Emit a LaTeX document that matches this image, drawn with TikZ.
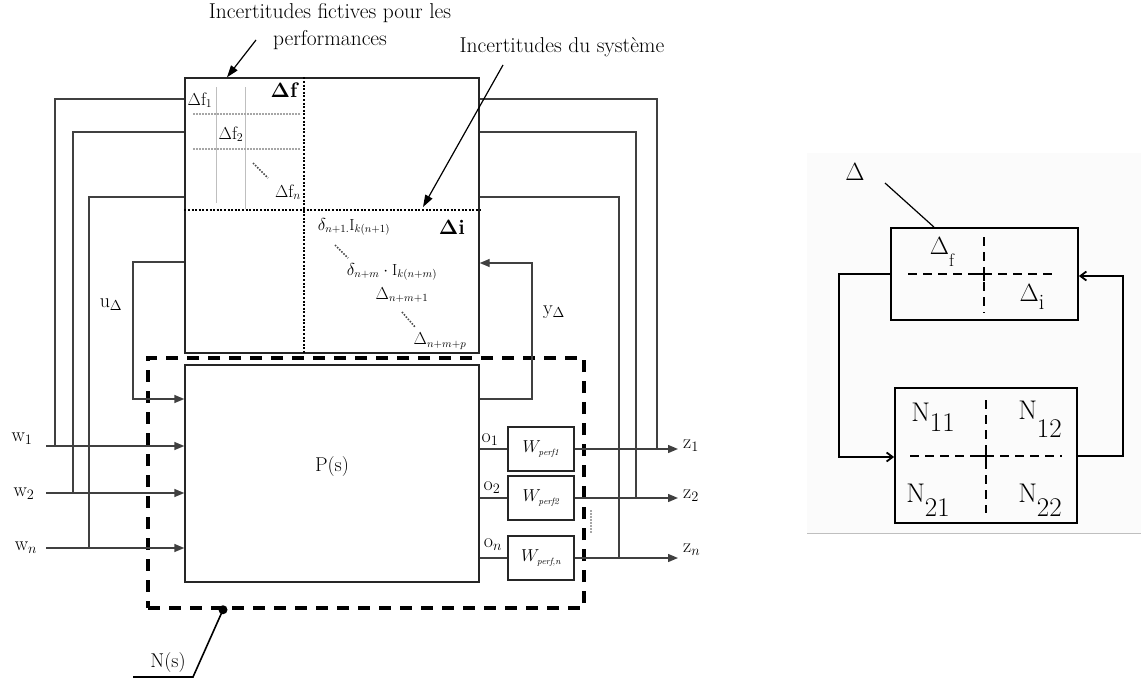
\documentclass[tikz,border=0pt]{standalone}
\usepackage{amsmath,amssymb}
\usepackage{fontspec}
\usetikzlibrary{arrows.meta,calc,positioning}
\newcommand{\lowsub}[3][10pt]{#2\lower#1\hbox{#3}}
\tikzset{
  >={Triangle[length=10pt,width=8pt]},
  blk/.style={draw=black!85,line width=1.4pt,inner sep=0pt},
  wire/.style={black!75,line width=1.4pt},
  sig/.style={wire,->},
  annot/.style={black,line width=1.2pt,-{Triangle[length=12pt,width=8pt]}},
  nbord/.style={draw,line width=3.5pt,dash pattern=on 12pt off 9pt},
  sepdot/.style={line width=2.2pt,dash pattern=on 2pt off 1.6pt},
  gridln/.style={black!25,line width=1pt},
  griddot/.style={black!35,line width=1.2pt,dash pattern=on 1.5pt off 1.5pt},
  cdots/.style={black!70,line width=1.6pt,dash pattern=on 1.5pt off 1.5pt},
  lbl/.style={font=\fontsize{20}{24}\selectfont},
  dlbl/.style={font=\fontsize{18}{21}\selectfont},
  ilbl/.style={font=\fontsize{16}{19}\selectfont},
  bigd/.style={font=\fontsize{21}{24}\selectfont\bfseries},
  note/.style={font=\fontsize{21.5}{27}\selectfont,align=center},
  wpbox/.style={blk,minimum width=66pt,minimum height=44pt,font=\fontsize{18}{20}\selectfont},
  rbox/.style={draw,line width=1.8pt,inner sep=0pt},
  rlbl/.style={font=\fontsize{27}{30}\selectfont},
  rloop/.style={line width=1.8pt,-{Straight Barb[length=6pt,width=9pt]}},
  rsep/.style={line width=1.4pt,dash pattern=on 9pt off 6pt},
}

\begin{document}
\begin{tikzpicture}[x=1pt,y=-1pt,every node/.style={inner sep=0pt}]
  \useasboundingbox (0,0) rectangle (1141,680);
  % left: uncertainty block, plant and N(s)
  \node[blk,minimum width=294pt,minimum height=275pt] (dlt) at (332,215.5) {};
  \node[blk,minimum width=294pt,minimum height=217pt] (plant) at (332,473.5) {};
  \node[lbl] (plab) at (332,467) {P(s)};
  \node[nbord,minimum width=436pt,minimum height=250pt] (nbox) at (366,483) {};
  \foreach \i/\yc/\sb in {1/449/perf1,2/498/perf2,n/558/{perf,n}}
    \node[wpbox] (wp\i) at (541,\yc) {$W_{\scriptscriptstyle \mathit{\sb}}$};

  % block structure of Delta
  \draw[sepdot] (dlt.north -| 304,0) -- (dlt.south -| 304,0);
  \draw[sepdot] (dlt.west |- 0,210) -- (dlt.east |- 0,210);
  \draw[gridln] (216,87) -- (216,203);
  \draw[gridln] (245,87) -- (245,209);
  \draw[griddot] (193,114) -- (300,114);
  \draw[griddot] (193,149) -- (300,149);
  \draw[cdots] (253,163) -- (268,178);
  \draw[cdots] (335,245) -- (348,258);
  \draw[cdots] (402,312) -- (415,327);
  \node[bigd] (dfl) at (284,90) {$\boldsymbol{\Delta}$f};
  \node[bigd] (dil) at (452,227) {$\boldsymbol{\Delta}$i};
  \node[dlbl] (df1) at (200,100) {$\Delta\mathrm{f}_1$};
  \node[dlbl] (df2) at (231,134) {$\Delta\mathrm{f}_2$};
  \node[dlbl] (dfn) at (288,192) {$\Delta\mathrm{f}_n$};
  \node[ilbl] (dn1) at (354,227) {$\delta_{n+1.}\mathrm{I}_{k(n+1)}$};
  \node[ilbl] (dnm) at (392,272) {$\delta_{n+m}\cdot\mathrm{I}_{k(n+m)}$};
  \node[ilbl] (dnm1) at (402,295) {$\Delta_{n+m+1}$};
  \node[ilbl] (dnmp) at (440,341) {$\Delta_{n+m+p}$};

  % inputs w and feedback from Delta
  \foreach \i/\yw/\xl/\yt in {1/446/55/99,2/493/73/132,n/548/89/197} {
    \coordinate (w\i) at (46,\yw);
    \draw[sig] (w\i) -- (plant.west |- w\i);
    \draw[wire] (dlt.west |- 0,\yt) -| (\xl,\yw);
  }
  \node[lbl] (w1l) at (22,439) {w$_1$};
  \node[lbl] (w2l) at (24,494) {w$_2$};
  \node[lbl] (wnl) at (26,548) {w$_n$};

  % outputs through the weights
  \foreach \i/\yc/\xr/\yt in {1/449/657/99,2/498/636/132,n/558/619/197} {
    \coordinate (z\i) at (678,\yc);
    \draw[wire] (plant.east |- wp\i) -- (wp\i.west);
    \draw[sig] (wp\i.east) -- (z\i);
    \draw[wire] (dlt.east |- 0,\yt) -| (\xr,\yc);
  }
  \node[lbl] (o1l) at (490,440) {o$_1$};
  \node[lbl] (o2l) at (492,488) {o$_2$};
  \node[lbl] (onl) at (493,545) {o$_n$};
  \node[lbl,anchor=west] (z1l) at (683,446) {z$_1$};
  \node[lbl,anchor=west] (z2l) at (683,496) {z$_2$};
  \node[lbl,anchor=west] (znl) at (683,550) {z$_n$};
  \draw[griddot] (591,510) -- (591,534);

  % u_Delta / y_Delta loop
  \draw[sig] (dlt.west |- 0,262) -| (133,399) -- (plant.west |- 0,399);
  \draw[sig] (plant.east |- 0,399) -| (532,263) -- (dlt.east |- 0,263);
  \node[lbl] (ul) at (111,305) {u$_\Delta$};
  \node[lbl] (yl) at (554,312) {y$_\Delta$};

  % annotations
  \node[note] (fict) at (330,27) {Incertitudes fictives pour les\\performances};
  \node[note] (sysu) at (562,47) {Incertitudes du système};
  \coordinate (fa) at (256,40);
  \coordinate (sa) at (503,65);
  \coordinate (di) at (423,207);
  \draw[annot] (fa) -- (dlt.north -| 227,0);
  \draw[annot] (sa) -- (di);

  % N(s) pointer
  \coordinate (ndot) at (nbox.south -| 223,0);
  \coordinate (nk) at (193,677);
  \coordinate (ne) at (133,677);
  \fill (ndot) circle (4.5pt);
  \draw[line width=1.6pt] (ndot) -- (nk) -- (ne);
  \node[lbl] (nlab) at (168,663) {N(s)};

  % right: Delta / N interconnection
  \fill[black!1.5] (807,153) rectangle (1141,533);
  \draw[black!25,line width=1pt] (807,533) -- (1141,533);
  \node[rbox,minimum width=187pt,minimum height=92pt] (dr) at (984.5,274) {};
  \node[rbox,minimum width=182pt,minimum height=135pt] (nr) at (986,455.5) {};
  \draw[rsep] (908,274) -- (1055,274);
  \draw[rsep] (984,237) -- (984,313);
  \draw[line width=1.4pt] (977,274) -- (991,274) (984,267) -- (984,281);
  \draw[rsep] (910,456) -- (1062,456);
  \draw[rsep] (986,400) -- (986,513);
  \draw[line width=1.4pt] (979,456) -- (993,456) (986,449) -- (986,463);
  \draw[rloop] (dr.west) -| (839,457) -- (nr.west |- 0,457);
  \draw[rloop] (nr.east |- 0,456) -| (1123,276) -- (dr.east |- 0,276);
  \node[rlbl] (dl) at (855,172) {$\Delta$};
  \draw[line width=1.2pt] (885,183) -- (dr.north -| 934,0);
  \node[rlbl] (dfr) at (942,252) {\lowsub[12pt]{$\Delta$}{\fontsize{18}{18}\selectfont f}};
  \node[rlbl] (dir) at (1032,297) {\lowsub[8pt]{$\Delta$}{\fontsize{22}{22}\selectfont i}};
  \node[rlbl] (n11) at (933,417) {\lowsub[10pt]{N}{11}};
  \node[rlbl] (n12) at (1040,419) {\lowsub[18pt]{N}{12}};
  \node[rlbl] (n21) at (928,500) {\lowsub[14pt]{N}{21}};
  \node[rlbl] (n22) at (1040,500) {\lowsub[14pt]{N}{22}};
\end{tikzpicture}
\end{document}
